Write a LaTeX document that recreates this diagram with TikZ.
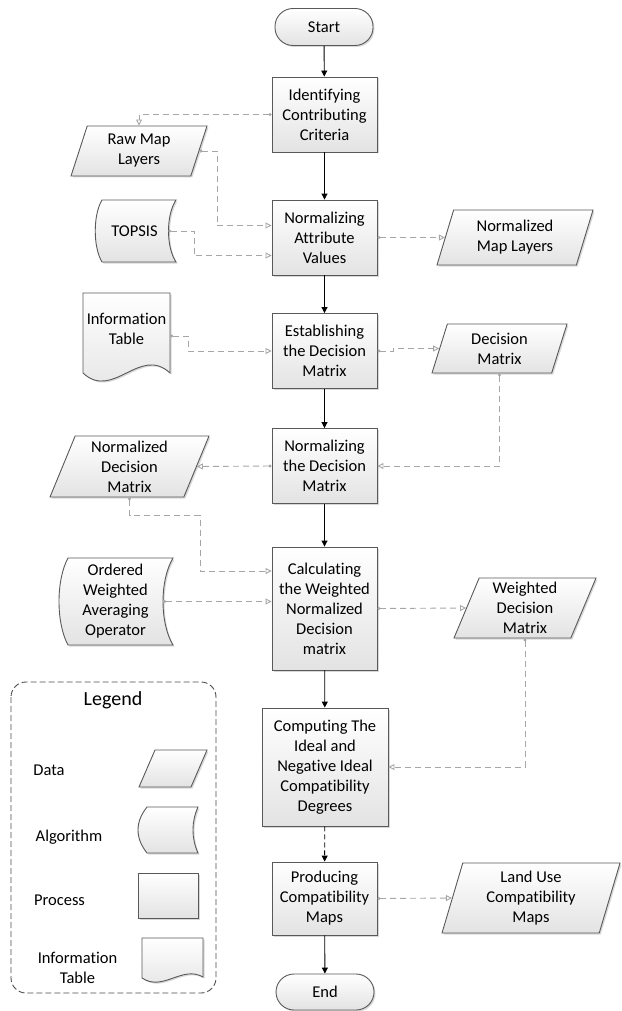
\documentclass[tikz,border=0pt]{standalone}
\usepackage{fontspec}
\setmainfont[Ligatures=NoCommon]{Carlito}
\usetikzlibrary{shapes.geometric,arrows.meta,shadows,calc}
\begin{document}
\begin{tikzpicture}[x=1pt,y=-1pt,
  txt/.style={font=\fontsize{16.5pt}{20pt}\selectfont, align=center, inner sep=0pt},
  shd/.style={draw=black!65, line width=0.9pt, top color=white, bottom color=black!11,
    drop shadow={shadow xshift=1.5pt, shadow yshift=-1.5pt, fill=black!30, opacity=0.5}},
  base/.style={shd, txt},
  process/.style={base, rectangle, minimum width=105pt, minimum height=75pt},
  term/.style={base, rectangle, rounded corners=18pt, minimum width=98pt, minimum height=37pt},
  data/.style={base, trapezium, trapezium left angle=64, trapezium right angle=116,
    trapezium stretches body=true},
  flow/.style={-{Triangle[length=6pt,width=6pt]}, black, line width=0.9pt},
  link/.style={draw=black!35, line width=0.9pt, dash pattern=on 6pt off 4pt,
    {Circle[open,length=3pt,width=3pt]}-{Triangle[open,length=6pt,width=6pt]}},
  legbox/.style={draw=black!70, line width=0.9pt, dash pattern=on 6pt off 3pt, rounded corners=15pt}
]
\useasboundingbox (0,0) rectangle (621,1011);

% ---- main process column ----
\node[term] (start) at (324,27) {Start};
\node[process] (p1) at (324.5,114.5) {Identifying\\Contributing\\Criteria};
\node[process] (p2) at (324.5,237.5) {Normalizing\\Attribute\\Values};
\node[process] (p3) at (324.5,351) {Establishing\\the Decision\\Matrix};
\node[process] (p4) at (324.5,466) {Normalizing\\the Decision\\Matrix};
\node[process, minimum height=123pt] (p5) at (324.5,608.5) {Calculating\\the Weighted\\Normalized\\Decision\\matrix};
\node[process, minimum width=126pt, minimum height=118pt] (p6) at (325,767) {Computing The\\Ideal and\\Negative Ideal\\Compatibility\\Degrees};
\node[process, minimum height=73pt] (p7) at (324.5,898.5) {Producing\\Compatibility\\Maps};
\node[term, minimum height=36pt] (end) at (325,992) {End};

% ---- data nodes ----
\node[data, minimum width=136pt, minimum height=50pt] (raw) at (139,151) {Raw Map\\Layers};
\node[data, minimum width=156pt, minimum height=55pt] (nml) at (515,237.5) {Normalized\\Map Layers};
\node[data, minimum width=135pt, minimum height=49pt] (dm) at (499.5,348.5) {Decision\\Matrix};
\node[data, minimum width=159pt, minimum height=61pt] (ndm) at (129.5,466.5) {Normalized\\Decision\\Matrix};
\node[data, minimum width=142pt, minimum height=60pt] (wdm) at (525,608) {Weighted\\Decision\\Matrix};
\node[data, minimum width=178pt, minimum height=70pt, trapezium left angle=69, trapezium right angle=111] (land) at (531,898) {Land Use\\Compatibility\\Maps};

% ---- algorithm shapes ----
\path[shd] (102,200) -- (176,200) .. controls (166,215) and (166,247) .. (176,262)
  -- (102,262) .. controls (93,247) and (93,215) .. (102,200) -- cycle;
\node[txt, minimum width=67pt, minimum height=62pt] (topsis) at (134.5,231) {TOPSIS};

\path[shd] (68,558) -- (173,558) .. controls (159.7,580) and (159.7,623) .. (173,645)
  -- (68,645) .. controls (56,623) and (56,580) .. (68,558) -- cycle;
\node[txt, minimum width=95pt, minimum height=87pt] (owa) at (115.5,601.5) {Ordered\\Weighted\\Averaging\\Operator};

% ---- information table ----
\path[shd] (83,293) -- (170,293) -- (170,373) .. controls (140,345) and (113,401) .. (83,373) -- cycle;
\node[txt, minimum width=87pt] (info) at (126.5,329) {Information\\Table};

% ---- main flow ----
\draw[flow] (start) -- (p1);
\draw[flow] (p1) -- (p2);
\draw[flow] (p2) -- (p3);
\draw[flow] (p3) -- (p4);
\draw[flow] (p4) -- (p5);
\draw[flow] (p5) -- (p6);
\draw[flow, dash pattern=on 5pt off 3pt] (p6) -- (p7);
\draw[flow] (p7) -- (end);

% ---- dashed links ----
\draw[link] (p1.west) -| (raw.north);
\draw[link] (raw.east) -- ++(18,0) |- ($(p2.west)+(0,-12)$);
\draw[link] (topsis.east) -- ++(26,0) |- ($(p2.west)+(0,18)$);
\draw[link] (p2.east) -- (nml.west);
\draw[link] ($(info.east)+(0,7)$) -- ++(18,0) |- (p3.west);
\draw[link] (p3.east) -- ++(16,0) |- (dm.west);
\draw[link] (dm.south) |- (p4.east);
\draw[link] (p4.west) -- (ndm.east);
\draw[link] (ndm.south) -- ++(0,18) -- ++(70.5,0) |- ($(p5.west)+(0,-37.5)$);
\draw[link] (owa.east) -- (p5.west |- owa.east);
\draw[link] (p5.east) -- (wdm.west);
\draw[link] (wdm.south) |- (p6.east);
\draw[link] (p7.east) -- (land.west);

% ---- legend ----
\draw[legbox] (11,682) rectangle (216,993);
\node[txt, font=\fontsize{20pt}{24pt}\selectfont] (legtitle) at (113,700) {Legend};
\node[txt] (ldatat) at (49,770) {Data};
\path[shd] (155,750) -- (207,750) -- (191,787) -- (139,787) -- cycle;
\node[txt] (lalgt) at (69,837) {Algorithm};
\path[shd] (147,807) -- (198,807) .. controls (191.3,822) and (191.3,838) .. (198,853)
  -- (147,853) .. controls (135,838) and (135,822) .. (147,807) -- cycle;
\node[txt] (lproct) at (59.5,900) {Process};
\node[base, rectangle, minimum width=60pt, minimum height=45pt] (lproc) at (168,895.5) {};
\node[txt] (linfot) at (77.5,967.5) {Information\\Table};
\path[shd] (142,938) -- (203,938) -- (203,977) .. controls (182,965) and (163,992) .. (142,978) -- cycle;
\end{tikzpicture}
\end{document}
